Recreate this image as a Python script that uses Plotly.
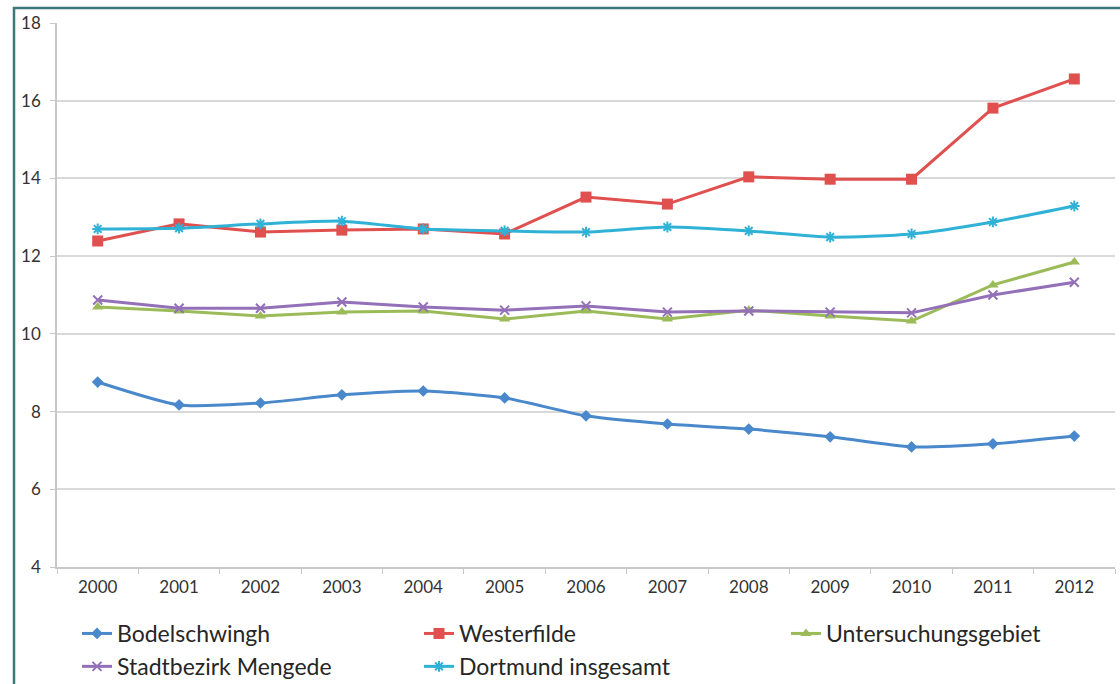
import plotly.graph_objects as go

years = [str(y) for y in range(2000, 2013)]
bodelschwingh = [8.76, 8.17, 8.22, 8.43, 8.53, 8.35, 7.89, 7.68, 7.55, 7.35, 7.09, 7.17, 7.37]
westerfilde = [12.39, 12.83, 12.62, 12.67, 12.70, 12.57, 13.52, 13.34, 14.04, 13.98, 13.98, 15.81, 16.56]
untersuchungsgebiet = [10.69, 10.59, 10.46, 10.56, 10.59, 10.38, 10.59, 10.38, 10.61, 10.46, 10.33, 11.26, 11.85]
mengede = [10.87, 10.66, 10.66, 10.82, 10.69, 10.61, 10.72, 10.56, 10.59, 10.56, 10.54, 11.00, 11.33]
dortmund = [12.70, 12.72, 12.83, 12.90, 12.70, 12.65, 12.62, 12.75, 12.65, 12.49, 12.57, 12.88, 13.29]
y_ticks = [4, 6, 8, 10, 12, 14, 16, 18]

W, H = 1120, 684
L, R, T, B = 57, 5, 23, 117
pw, ph = W - L - R, H - T - B

def px(x):
    return (x - L) / pw

def py(y):
    return (H - B - y) / ph

font = "Lato, 'Open Sans', sans-serif"

fig = go.Figure()
series = [
    ("Bodelschwingh", bodelschwingh, "#4a88cc", dict(symbol="diamond", size=9), "spline", "legend"),
    ("Westerfilde", westerfilde, "#e0504f", dict(symbol="square", size=11), "linear", "legend2"),
    ("Untersuchungsgebiet", untersuchungsgebiet, "#9bbb59", dict(symbol="triangle-up", size=10), "linear", "legend3"),
    ("Stadtbezirk Mengede", mengede, "#9370b8", dict(symbol="x-thin-open", size=9, line=dict(width=2, color="#9370b8")), "linear", "legend"),
    ("Dortmund insgesamt", dortmund, "#2fb2d6", dict(symbol="asterisk-open", size=9, line=dict(width=2, color="#2fb2d6")), "spline", "legend2"),
]
for name, vals, col, mk, shape, lg in series:
    fig.add_trace(go.Scatter(
        x=years, y=vals, name=name, mode="lines+markers",
        line=dict(color=col, width=3, shape=shape, smoothing=0.6),
        marker=dict(color=col, **mk), legend=lg,
    ))

legend_common = dict(
    font=dict(family=font, size=23, color="#262626"),
    bgcolor="rgba(0,0,0,0)", yanchor="top", xanchor="left",
    orientation="v", tracegroupgap=0, itemwidth=30,
)
fig.update_layout(
    width=W, height=H,
    margin=dict(l=L, r=R, t=T, b=B, autoexpand=False),
    paper_bgcolor="white", plot_bgcolor="white",
    font=dict(family=font, size=17, color="#404040"),
    legend=dict(x=px(77), y=py(612), **legend_common),
    legend2=dict(x=px(419), y=py(612), **legend_common),
    legend3=dict(x=px(786), y=py(612), **legend_common),
    xaxis=dict(
        type="category", range=[-0.5, 12.5], showgrid=False,
        showline=True, linecolor="#c8c8c8", linewidth=1.5,
        ticks="outside", tickson="boundaries", ticklen=5, tickcolor="#c8c8c8",
        tickfont=dict(size=17, color="#333333"), ticklabelstandoff=4,
    ),
    yaxis=dict(
        range=[4, 18], tickvals=y_ticks, showgrid=True, gridcolor="#d9d9d9", gridwidth=1.5,
        showline=True, linecolor="#c8c8c8", linewidth=1.5, zeroline=False,
        ticks="outside", ticklen=5, tickcolor="#c8c8c8",
        tickfont=dict(size=17, color="#333333"), ticklabelstandoff=6,
    ),
    shapes=[dict(
        type="rect", xref="paper", yref="paper",
        x0=px(14), x1=px(1135), y0=py(700), y1=py(8),
        line=dict(color="#3d7878", width=2.5), fillcolor="rgba(0,0,0,0)", layer="above",
    )],
)

fig.write_html("out.html")
